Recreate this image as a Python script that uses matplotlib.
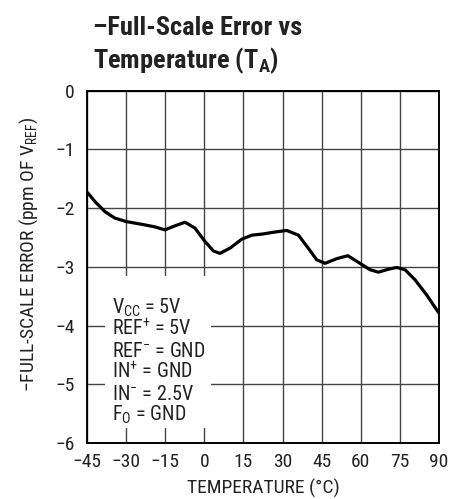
import matplotlib
matplotlib.use("Agg")
import matplotlib.pyplot as plt
from matplotlib.patches import Rectangle

FONT = "Roboto Condensed"
plt.rcParams["font.family"] = [FONT, "DejaVu Sans"]
plt.rcParams["mathtext.fontset"] = "custom"
plt.rcParams["mathtext.rm"] = FONT
plt.rcParams["mathtext.it"] = FONT
plt.rcParams["mathtext.bf"] = FONT + ":bold"
plt.rcParams["axes.unicode_minus"] = True

# Measured curve: temperature (°C) vs negative full-scale error (ppm of VREF)
temperature = [-44.7, -41.9, -38.1, -34.3, -29.8, -23.4, -18.9, -15.1, -11.2,
               -7.4, -3.6, 0.3, 3.5, 6.0, 9.9, 14.3, 18.2, 22.5, 26.5, 31.6,
               36.1, 40.0, 43.1, 46.3, 50.8, 55.0, 59.7, 63.6, 66.8, 70.6,
               73.8, 77.0, 80.8, 85.3, 90.0]
fs_error = [-1.74, -1.89, -2.06, -2.17, -2.23, -2.28, -2.32, -2.37, -2.30,
            -2.24, -2.34, -2.57, -2.73, -2.77, -2.68, -2.53, -2.46, -2.44,
            -2.41, -2.38, -2.46, -2.69, -2.88, -2.94, -2.86, -2.81, -2.94,
            -3.05, -3.09, -3.04, -3.01, -3.05, -3.22, -3.48, -3.79]

x_ticks = [-45, -30, -15, 0, 15, 30, 45, 60, 75, 90]
y_ticks = [0, -1, -2, -3, -4, -5, -6]

conditions = [r"V$_{\mathrm{CC}}$ = 5V",
              r"REF$^{+}$ = 5V",
              r"REF$^{-}$ = GND",
              r"IN$^{+}$ = GND",
              r"IN$^{-}$ = 2.5V",
              r"F$_{\mathrm{O}}$ = GND"]

INK = "#222222"

fig = plt.figure(figsize=(4.62, 4.99), dpi=100)
ax = fig.add_axes([0.1883, 0.1122, 0.7619, 0.7060])

ax.plot(temperature, fs_error, color="black", lw=2.3, solid_capstyle="round",
        zorder=4)

ax.set_xlim(-45, 90)
ax.set_ylim(-6, 0)
ax.set_xticks(x_ticks)
ax.set_yticks(y_ticks)
ax.set_xticklabels([str(t).replace("-", "\u2212") for t in x_ticks])
ax.set_yticklabels([str(t).replace("-", "\u2212") for t in y_ticks])
ax.tick_params(length=0, labelsize=14, colors=INK)
ax.tick_params(axis="x", pad=7)
ax.tick_params(axis="y", pad=9)
ax.grid(True, color="#444444", lw=1.0, zorder=1)
ax.set_axisbelow(True)
for sp in ax.spines.values():
    sp.set_linewidth(1.4)
    sp.set_zorder(5)

ax.set_xlabel("TEMPERATURE (°C)", fontsize=14, labelpad=6, color=INK)
ax.set_ylabel(r"$-$FULL-SCALE ERROR (ppm OF V$_{\mathrm{REF}}$)",
              fontsize=14, color=INK)
ax.yaxis.set_label_coords(-0.133, 0.535)

# white panel behind the operating conditions
ax.add_patch(Rectangle((0.051, 0.043), 0.30, 0.43, transform=ax.transAxes,
                       facecolor="white", edgecolor="none", zorder=2))
for i, line in enumerate(conditions):
    ax.text(0.070, 0.366 - i * 0.0608, line, transform=ax.transAxes,
            fontsize=14.5, va="baseline", ha="left", zorder=3, color=INK)

fig.text(0.201, 0.967, "\u2013Full-Scale Error vs\nTemperature (T$_{\\mathbf{A}}$)",
         fontsize=19, fontweight="bold", va="top", ha="left",
         linespacing=1.2, color=INK)

fig.savefig("out.png", dpi=100)
